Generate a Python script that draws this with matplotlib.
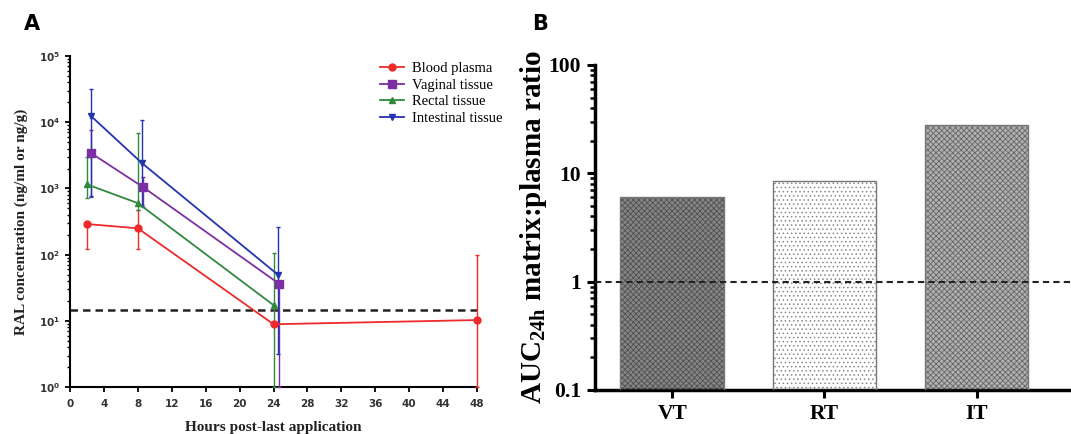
import matplotlib.pyplot as plt
import numpy as np
from matplotlib.lines import Line2D
from matplotlib.ticker import LogLocator, NullFormatter, FixedLocator, FixedFormatter

plt.rcParams['hatch.linewidth'] = 0.6
plt.rcParams['mathtext.fontset'] = 'custom'
plt.rcParams['mathtext.rm'] = 'Liberation Serif'
plt.rcParams['mathtext.bf'] = 'Liberation Serif:bold'

# panel A: concentration time courses (value, lower bound, upper bound)
plasma_h = [2, 8, 24, 48]
plasma = [290, 250, 8.9, 10.3]
plasma_lo = [120, 120, 8.9, 1]
plasma_hi = [290, 480, 8.9, 98]

vaginal_h = [2.5, 8.6, 24.7]
vaginal = [3400, 1050, 36]
vaginal_lo = [740, 520, 1]
vaginal_hi = [7600, 1480, 36]

rectal_h = [2, 8, 24]
rectal = [1150, 600, 17.3]
rectal_lo = [710, 480, 1]
rectal_hi = [2950, 6800, 105]

intestinal_h = [2.5, 8.5, 24.5]
intestinal = [12300, 2400, 50]
intestinal_lo = [760, 560, 3.2]
intestinal_hi = [32000, 10700, 260]

loq = 14.5

# panel B: AUC ratios
tissues = ['VT', 'RT', 'IT']
auc_ratio = [5.9, 8.3, 28]

fig = plt.figure(figsize=(10.71, 4.34), dpi=100)

# ---------- panel A ----------
ax = fig.add_axes([0.0654, 0.108, 0.380, 0.763])
series = [
    ('Blood plasma', plasma_h, plasma, plasma_lo, plasma_hi, '#ee2a2a', 'o', 5),
    ('Vaginal tissue', vaginal_h, vaginal, vaginal_lo, vaginal_hi, '#7b2fa3', 's', 5.5),
    ('Rectal tissue', rectal_h, rectal, rectal_lo, rectal_hi, '#2f8a3c', '^', 4.5),
    ('Intestinal tissue', intestinal_h, intestinal, intestinal_lo, intestinal_hi, '#2433b0', 'v', 4.5),
]
handles = []
for name, h, v, lo, hi, col, mk, ms in series:
    v = np.array(v)
    err = [v - np.array(lo), np.array(hi) - v]
    ax.errorbar(h, v, yerr=err, color=col, marker=mk, ms=ms, lw=1.3,
                elinewidth=1.0, capsize=1.5, clip_on=False, zorder=3)
    handles.append(Line2D([], [], color=col, marker=mk, ms=ms, lw=1.3, label=name))

ax.axhline(loq, color='#222222', ls=(0, (3, 2)), lw=1.8, zorder=2)
ax.set_yscale('log')
ax.set_ylim(1, 1e5)
ax.set_xlim(0, 48)
ax.set_xticks(np.arange(0, 49, 4))
ax.yaxis.set_major_locator(LogLocator(base=10, numticks=10))
ax.yaxis.set_minor_locator(LogLocator(base=10, subs=np.arange(2, 10), numticks=10))
ax.yaxis.set_minor_formatter(NullFormatter())
for s in ['top', 'right']:
    ax.spines[s].set_visible(False)
for s in ['left', 'bottom']:
    ax.spines[s].set_linewidth(1.5)
ax.tick_params(axis='both', which='major', direction='out', length=3.5, width=1.3,
               labelsize=7.5, labelcolor='#333333')
ax.tick_params(axis='x', which='major', pad=5)
ax.tick_params(axis='y', which='minor', direction='out', length=2, width=1.0)
for lbl in ax.get_xticklabels() + ax.get_yticklabels():
    lbl.set_fontweight('bold')
ax.set_xlabel('Hours post-last application', family='Liberation Serif',
              fontweight='bold', fontsize=11, labelpad=9, color='#222222')
ax.set_ylabel('RAL concentration (ng/ml or ng/g)', family='Liberation Serif',
              fontweight='bold', fontsize=11, labelpad=8, color='#222222')
ax.legend(handles=handles, loc='upper left', bbox_to_anchor=(0.345, 0.88),
          bbox_transform=fig.transFigure, frameon=False,
          prop={'family': 'Liberation Serif', 'size': 10.5},
          handlelength=1.7, handletextpad=0.5, labelspacing=0.22, borderpad=0.2)
fig.text(0.022, 0.945, 'A', fontsize=15, fontweight='bold', ha='left', va='center')

# ---------- panel B ----------
bx = fig.add_axes([0.5556, 0.1014, 0.4444, 0.749])
styles = [
    ('#858585', '#505050', 'xxxxxx'),
    ('#ffffff', '#888888', '....'),
    ('#b0b0b0', '#666666', 'xxxxxx'),
]
x = np.arange(len(tissues))
for xi, val, (fc, hc, hatch) in zip(x, auc_ratio, styles):
    bx.bar(xi, val, width=0.68, bottom=0.1, color=fc, edgecolor=hc, hatch=hatch,
           linewidth=0, zorder=2)
    bx.bar(xi, val, width=0.68, bottom=0.1, fill=False, edgecolor='#777777',
           linewidth=1.0, zorder=3)
bx.axhline(1, color='#222222', ls=(0, (3, 2)), lw=1.5, zorder=4)
bx.set_yscale('log')
bx.set_ylim(0.1, 100)
bx.set_xlim(-0.507, 2.62)
bx.yaxis.set_major_locator(FixedLocator([0.1, 1, 10, 100]))
bx.yaxis.set_major_formatter(FixedFormatter(['0.1', '1', '10', '100']))
bx.yaxis.set_minor_locator(LogLocator(base=10, subs=np.arange(2, 10), numticks=10))
bx.yaxis.set_minor_formatter(NullFormatter())
bx.set_xticks(x)
bx.set_xticklabels(tissues)
for s in ['top', 'right']:
    bx.spines[s].set_visible(False)
for s in ['left', 'bottom']:
    bx.spines[s].set_linewidth(2.5)
bx.tick_params(axis='both', which='major', direction='out', length=6, width=2.2,
               labelsize=15.5, pad=4)
bx.tick_params(axis='y', which='minor', direction='out', length=3.5, width=1.8)
for lbl in bx.get_xticklabels() + bx.get_yticklabels():
    lbl.set_family('Liberation Serif')
    lbl.set_fontweight('bold')
bx.set_ylabel('AUC$_{\\mathbf{24h}}$ matrix:plasma ratio', family='Liberation Serif',
              fontweight='bold', fontsize=21, labelpad=0)
fig.text(0.497, 0.945, 'B', fontsize=15, fontweight='bold', ha='left', va='center')

fig.savefig('out.png', dpi=100)
